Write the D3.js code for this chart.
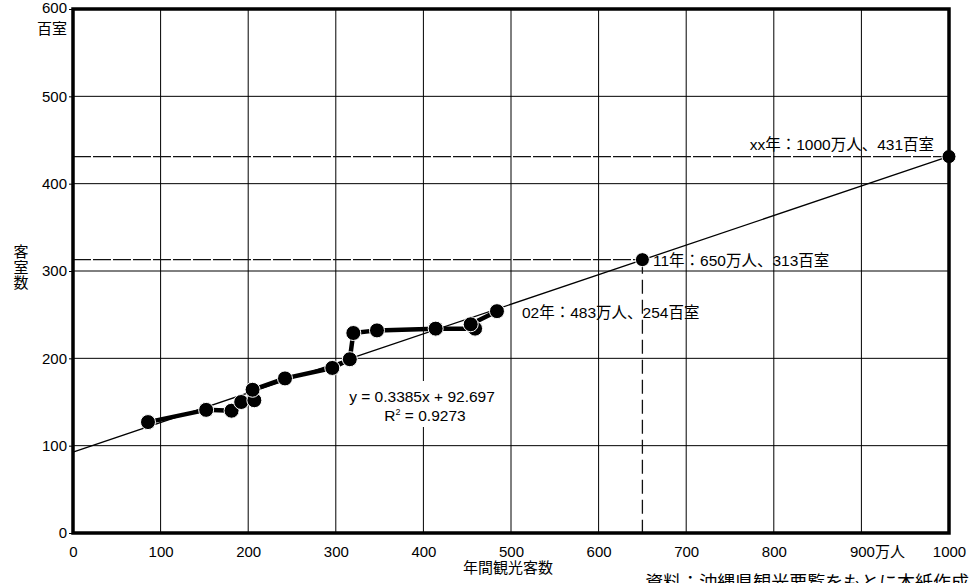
<!DOCTYPE html>
<html><head><meta charset="utf-8">
<script src="https://cdn.jsdelivr.net/npm/d3@7"></script>
<style>
html,body{margin:0;padding:0;background:#fff;}
svg{display:block;font-family:"Liberation Sans","Noto Sans CJK JP",Arial,sans-serif;}
</style></head>
<body><svg id="c" width="970" height="583"></svg>
<script>
// data (x: 年間観光客数 万人, y: 客室数 百室)
const visitors = [85.6, 152, 181, 192, 207, 205, 242, 296, 316, 320, 347, 414, 459, 454, 484];
const rooms    = [127, 141, 140, 150, 152, 164, 177, 189, 199, 229, 232, 234, 234, 239, 254];
const projections = [
  {x: 650, y: 313, label: "11年：650万人、313百室"},
  {x: 1000, y: 431, label: "xx年：1000万人、431百室"}
];
const lastLabel = "02年：483万人、254百室";
const slope = 0.3385, intercept = 92.697;
const eqText = "y = 0.3385x + 92.697";
const r2Text = "= 0.9273";
const xTicks = [0,100,200,300,400,500,600,700,800,900,1000];
const xTickLabels = ["0","100","200","300","400","500","600","700","800","900","1000"];
const yTicks = [0,100,200,300,400,500,600];
const xTitle = "年間観光客数";
const yTitle = ["客","室","数"];
const yUnit = "百室";
const xUnit = "万人";
const source = "資料：沖縄県観光要覧をもとに本紙作成";

const svg = d3.select("#c");
const L = 73, R = 949, T = 9, B = 533;
const x = d3.scaleLinear().domain([0,1000]).range([L,R]);
const y = d3.scaleLinear().domain([0,600]).range([B,T]);

// gridlines
const g = svg.append("g");
g.selectAll("line.vx").data(xTicks.slice(1,-1)).join("line")
  .attr("x1",d=>x(d)).attr("x2",d=>x(d)).attr("y1",T).attr("y2",B)
  .attr("stroke","#000").attr("stroke-width",1);
g.selectAll("line.hy").data(yTicks.slice(1,-1)).join("line")
  .attr("y1",d=>y(d)).attr("y2",d=>y(d)).attr("x1",L).attr("x2",R)
  .attr("stroke","#000").attr("stroke-width",1);

// axes (labels)
const fs = 15;
const afs = 15.5;
const yAxis = d3.axisLeft(y).tickValues(yTicks).tickSize(4).tickFormat(d3.format("d"));
const ya = svg.append("g").attr("transform",`translate(${L},0)`).call(yAxis)
  .attr("font-family",null).attr("font-size",null);
ya.select(".domain").remove();
ya.selectAll("line").attr("stroke","#000");
ya.selectAll("text").attr("x",-6).attr("font-size",fs).attr("fill","#000");
ya.selectAll(".tick").filter(d=>d===600).select("text").attr("dy","0.2em");

const xAxis = d3.axisBottom(x).tickValues(xTicks).tickSize(0).tickFormat((d,i)=>xTickLabels[i]);
const xa = svg.append("g").attr("transform",`translate(0,${B})`).call(xAxis)
  .attr("font-family",null).attr("font-size",null);
xa.select(".domain").remove();
xa.selectAll("text").attr("y",24).attr("dy",null).attr("font-size",fs).attr("fill","#000");
xa.selectAll(".tick").filter(d=>d===900).select("text")
  .attr("text-anchor","start").attr("x",-12).text(d=>d + xUnit);

// unit under 600
svg.append("text").attr("x",L-6).attr("y",y(600)+25).attr("text-anchor","end")
  .attr("font-size",fs).text(yUnit);

// y title stacked
svg.selectAll("text.yt").data(yTitle).join("text")
  .attr("x",21).attr("y",(d,i)=>257+i*15.5).attr("text-anchor","middle")
  .attr("font-size",15).text(d=>d);

// x title
svg.append("text").attr("x",508).attr("y",573).attr("text-anchor","middle")
  .attr("font-size",15).text(xTitle);

// source
svg.append("text").attr("x",969).attr("y",589).attr("text-anchor","end")
  .attr("font-size",18).text(source);

// projection dashed lines
projections.forEach(p=>{
  svg.append("line").attr("x1",L).attr("x2",x(p.x)).attr("y1",y(p.y)).attr("y2",y(p.y))
    .attr("stroke","#111").attr("stroke-width",1.3).attr("stroke-dasharray","18,2");
});
svg.append("line").attr("x1",x(650)).attr("x2",x(650)).attr("y1",y(313)).attr("y2",B)
  .attr("stroke","#111").attr("stroke-width",1.3).attr("stroke-dasharray","14,6");

// regression line
svg.append("line").attr("x1",x(0)).attr("y1",y(intercept))
  .attr("x2",x(1000)).attr("y2",y(slope*1000+intercept))
  .attr("stroke","#000").attr("stroke-width",1.3);

// data line
const pts = visitors.map((v,i)=>[v,rooms[i]]);
svg.append("path").datum(pts)
  .attr("d",d3.line().x(d=>x(d[0])).y(d=>y(d[1])))
  .attr("fill","none").attr("stroke","#000").attr("stroke-width",4.5).attr("stroke-linejoin","round");

// markers
svg.selectAll("circle.m").data(pts).join("circle")
  .attr("cx",d=>x(d[0])).attr("cy",d=>y(d[1])).attr("r",7.5)
  .attr("fill","#000").attr("stroke","#fff").attr("stroke-width",1);
svg.selectAll("circle.p").data(projections).join("circle")
  .attr("cx",d=>x(d.x)).attr("cy",d=>y(d.y)).attr("r",7)
  .attr("fill","#000").attr("stroke","#fff").attr("stroke-width",1);

// labels
svg.append("text").attr("x",522).attr("y",318).attr("font-size",afs).text(lastLabel);
svg.append("text").attr("x",653).attr("y",266).attr("font-size",afs).text(projections[0].label);
svg.append("text").attr("x",934).attr("y",150).attr("text-anchor","end").attr("font-size",afs).text(projections[1].label);

// equation box
svg.append("rect").attr("x",340).attr("y",381).attr("width",166).attr("height",46).attr("fill","#fff");
svg.append("text").attr("x",422).attr("y",402).attr("text-anchor","middle").attr("font-size",afs).text(eqText);
const r2 = svg.append("text").attr("x",425).attr("y",421).attr("text-anchor","middle").attr("font-size",afs);
r2.append("tspan").text("R");
r2.append("tspan").attr("font-size",9).attr("dy",-6).text("2");
r2.append("tspan").attr("dy",6).text(" " + r2Text);

// frame
svg.append("rect").attr("x",L).attr("y",T).attr("width",R-L).attr("height",B-T)
  .attr("fill","none").attr("stroke","#000").attr("stroke-width",3.5);
</script></body></html>
